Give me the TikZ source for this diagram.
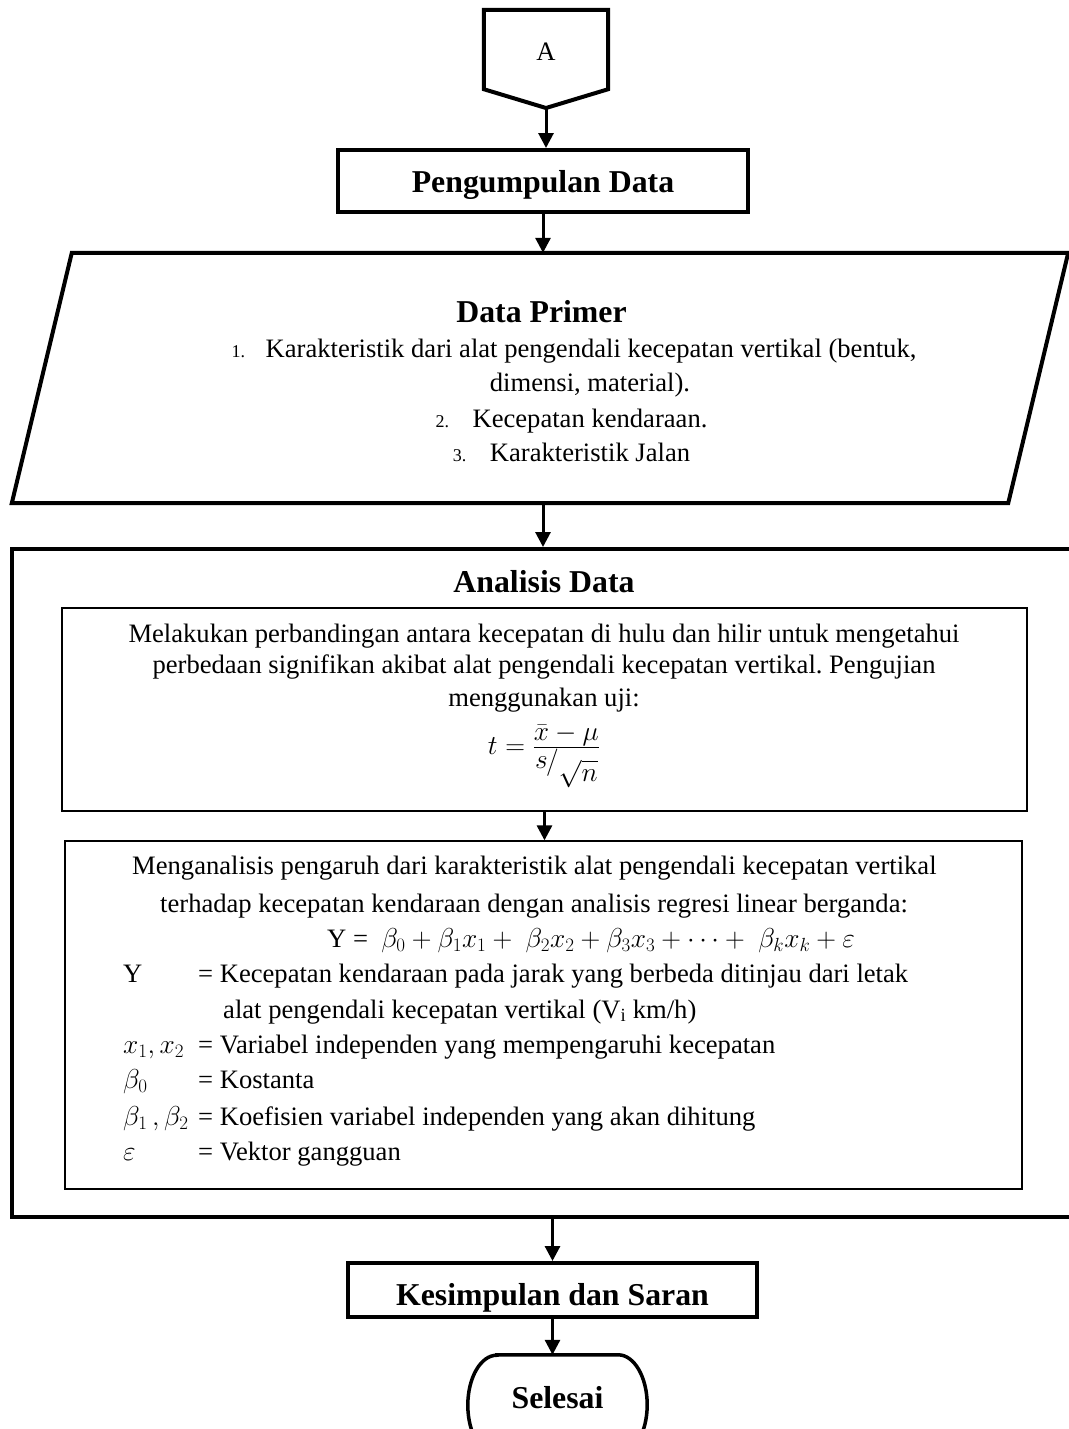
\documentclass[tikz,border=0pt]{standalone}
\usepackage{amsmath}
\usepackage{fontspec}
\setmainfont{Liberation Serif}
\usetikzlibrary{arrows.meta,calc}
\frenchspacing
\newcommand\defrow[2]{\makebox[75pt][l]{#1}= #2}
\newcommand\mth[1]{\scalebox{1.1}{$#1$}}
\tikzset{
  thickbox/.style={draw, line width=4pt, inner sep=0pt},
  arr/.style={line width=3pt, -{Triangle[length=15pt,width=15pt]}},
  body/.style={font=\fontsize{26.6}{31}\selectfont, inner sep=0pt},
  head/.style={font=\fontsize{31.8}{36}\selectfont\bfseries, inner sep=0pt},
  num/.style={font=\fontsize{18}{21}\selectfont, inner sep=0pt},
}
\begin{document}
\begin{tikzpicture}[x=1pt,y=-1pt]
\fill[white] (0,0) rectangle (1068,1429);
\useasboundingbox (0,0) rectangle (1068,1429);

% connector A
\node[inner sep=0pt, minimum width=124pt, minimum height=79pt, text height=21pt, text depth=0pt, font=\fontsize{26.6}{31}\selectfont] (conA) at (546,49.5) {A};
\draw[line width=4pt] (conA.north west) -- (conA.north east) -- (conA.south east) -- (546,108) coordinate (tipA) -- (conA.south west) -- cycle;

% Pengumpulan Data
\node[thickbox, head, minimum width=410pt, minimum height=62pt, text height=22pt, text depth=0pt] (pd) at (543,181) {Pengumpulan Data};

% Data Primer parallelogram
\node[inner sep=0pt, minimum width=1056pt, minimum height=250pt] (dp) at (540,378) {};
\draw[line width=4pt] ([xshift=60pt]dp.north west) -- (dp.north east) -- ([xshift=-60pt]dp.south east) -- (dp.south west) -- cycle;
\node[head, anchor=base] (dpt) at (541.5,322) {Data Primer};
\node[body, anchor=base] (dp1) at (591,357) {Karakteristik dari alat pengendali kecepatan vertikal (bentuk,};
\node[num, anchor=base west] (dp1n) at ([xshift=-34pt]dp1.base west) {1.};
\node[body, anchor=base] (dp2) at (590,391) {dimensi, material).};
\node[body, anchor=base] (dp3) at (590,427) {Kecepatan kendaraan.};
\node[num, anchor=base west] (dp3n) at ([xshift=-37pt]dp3.base west) {2.};
\node[body, anchor=base] (dp4) at (590,461) {Karakteristik Jalan};
\node[num, anchor=base west] (dp4n) at ([xshift=-37pt]dp4.base west) {3.};

% Analisis Data
\node[thickbox, minimum width=1064pt, minimum height=668pt] (ad) at (544,883) {};
\node[head, anchor=base] (adt) at (544,592) {Analisis Data};

\node[draw, line width=2.5pt, inner sep=0pt, minimum width=965pt, minimum height=203pt] (b1) at (544.5,709.5) {};
\node[body, anchor=base] (b1t1) at (544,642) {Melakukan perbandingan antara kecepatan di hulu dan hilir untuk mengetahui};
\node[body, anchor=base] (b1t2) at (544,673) {perbedaan signifikan akibat alat pengendali kecepatan vertikal. Pengujian};
\node[body, anchor=base] (b1t3) at (544,706) {menggunakan uji:};
\node[body, anchor=base] (b1f) at (544,754) {\mth{t=\frac{\displaystyle\bar{x}-\mu}{\displaystyle\raisebox{1pt}{$s$}\!\!\;/\raisebox{-11pt}{$\sqrt{n}$}}}};

\node[draw, line width=1.3pt, inner sep=0pt, minimum width=957pt, minimum height=348pt] (b2) at (543.5,1015) {};
\node[body, anchor=base west] (b2t1) at (132,874) {Menganalisis pengaruh dari karakteristik alat pengendali kecepatan vertikal};
\node[body, anchor=base west] (b2t2) at (160,912) {terhadap kecepatan kendaraan dengan analisis regresi linear berganda:};
\node[body, anchor=base west] (b2f) at (327,947) {Y =\ \ \mth{\beta_0+\beta_1x_1+\ \beta_2x_2+\beta_3x_3+\cdots+\ \beta_kx_k+\varepsilon}};
\node[body, anchor=base west] (dY) at (123,982) {\defrow{Y}{Kecepatan kendaraan pada jarak yang berbeda ditinjau dari letak}};
\node[body, anchor=base west] (dYc) at (223,1018) {alat pengendali kecepatan vertikal (V\textsubscript{i} km/h)};
\node[body, anchor=base west] (dx) at (123,1053) {\defrow{\mth{x_1, x_2}}{Variabel independen yang mempengaruhi kecepatan}};
\node[body, anchor=base west] (db0) at (123,1088) {\defrow{\mth{\beta_0}}{Kostanta}};
\node[body, anchor=base west] (db12) at (123,1125) {\defrow{\mth{\beta_1\,,\beta_2}}{Koefisien variabel independen yang akan dihitung}};
\node[body, anchor=base west] (de) at (123,1160) {\defrow{\mth{\varepsilon}}{Vektor gangguan}};

% Kesimpulan
\node[thickbox, head, minimum width=409pt, minimum height=54pt, text height=30pt, text depth=0pt] (kes) at (552.5,1290) {Kesimpulan dan Saran};

% Selesai terminator
\node[head, inner sep=0pt, minimum width=179pt, minimum height=100pt, text height=10pt, text depth=4pt] (sel) at (557.5,1405) {Selesai};
\draw[line width=3.5pt] ([xshift=29pt]sel.north west) -- ([xshift=-29pt]sel.north east)
  arc[start angle=90, end angle=-90, x radius=29pt, y radius=50pt]
  -- ([xshift=29pt]sel.south west)
  arc[start angle=270, end angle=90, x radius=29pt, y radius=50pt] -- cycle;

% connectors
\draw[arr] (tipA) -- (tipA |- pd.north);
\draw[arr] (pd.south) -- (pd.south |- dp.north);
\draw[arr] (pd.south |- dp.south) -- (pd.south |- ad.north);
\draw[arr] (b1.south) -- (b1.south |- b2.north);
\draw[arr] (ad.south -| kes.north) -- (kes.north);
\draw[arr] (kes.south) -- (kes.south |- sel.north);
\end{tikzpicture}
\end{document}
